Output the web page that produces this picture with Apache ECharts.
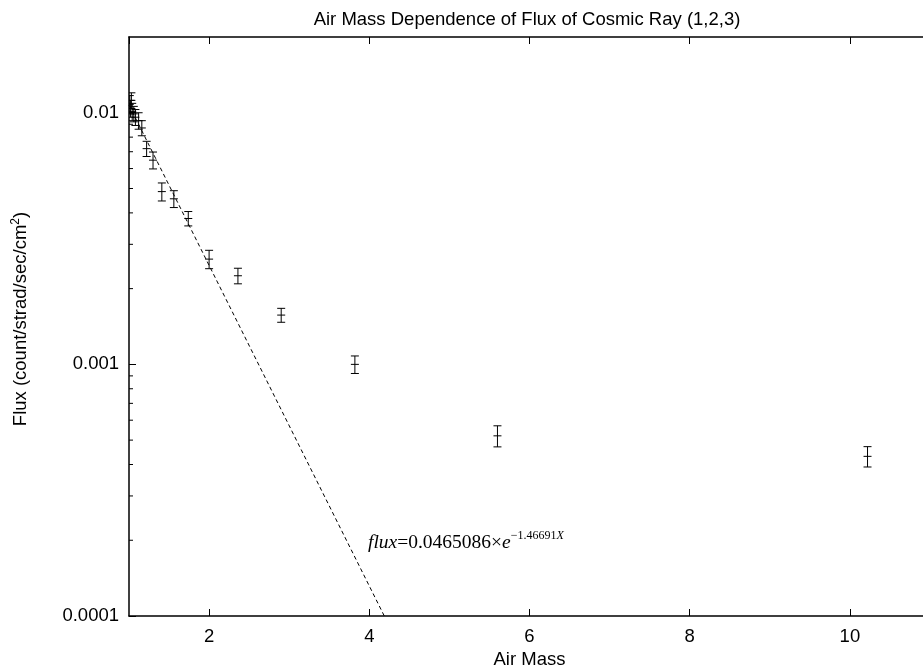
<!DOCTYPE html>
<html>
<head>
<meta charset="utf-8">
<script src="https://cdn.jsdelivr.net/npm/echarts@6/dist/echarts.min.js"></script>
<style>
  html, body { margin: 0; padding: 0; background: #fff; }
  #chart { width: 923px; height: 666px; }
</style>
</head>
<body>
<div id="chart"></div>
<script>
// Measured cosmic-ray flux versus air mass, with 1-sigma errors
const airMass = [1.01, 1.02, 1.03, 1.04, 1.06, 1.08, 1.12, 1.16, 1.22, 1.30, 1.41, 1.56, 1.74, 2.00, 2.36, 2.90, 3.82, 5.60, 10.22];
const flux    = [0.0108, 0.0104, 0.0112, 0.0101, 0.0099, 0.0096, 0.0093, 0.0087, 0.0072, 0.00648, 0.00486, 0.00455, 0.00380, 0.00262, 0.00225, 0.00157, 0.00100, 0.00052, 0.000431];
const fluxErr = [0.0009, 0.0008, 0.0008, 0.0008, 0.0007, 0.0007, 0.0007, 0.0006, 0.0005, 0.0005, 0.0004, 0.00035, 0.00025, 0.00022, 0.00016, 0.00010, 0.00008, 0.00005, 0.00004];

// Exponential fit: flux = fitA * exp(-fitB * X)
const fitA = 0.0465086;
const fitB = 1.46691;
const fitRange = [1, 11];

// Axis ranges and minor ticks of the logarithmic flux axis
const xRange = [1, 11];
const yRange = [0.0001, 0.02];
const yMinorTicks = [0.0002, 0.0003, 0.0004, 0.0005, 0.0006, 0.0007, 0.0008, 0.0009,
                     0.002, 0.003, 0.004, 0.005, 0.006, 0.007, 0.008, 0.009];

const FONT = '"Liberation Sans", Arial, sans-serif';
const SERIF = '"Liberation Serif", "Times New Roman", serif';
const FS = 18.5;

const chart = echarts.init(document.getElementById('chart'), null, { renderer: 'canvas' });

function fmtLog(v) {
  return String(Number(Number(v).toPrecision(6)));
}

const baseX = {
  type: 'value', min: xRange[0], max: xRange[1],
  axisLine: { show: true, lineStyle: { color: '#000', width: 1.5 } },
  axisTick: { show: true, inside: true, length: 7, lineStyle: { color: '#000', width: 1 } },
  splitLine: { show: false }
};
const baseY = {
  type: 'log', logBase: 10, min: yRange[0], max: yRange[1],
  axisLine: { show: true, lineStyle: { color: '#000', width: 1.5 } },
  axisTick: { show: true, inside: true, length: 7, lineStyle: { color: '#000', width: 1 } },
  splitLine: { show: false }
};

const fitData = fitRange.map(x => [x, fitA * Math.exp(-fitB * x)]);

chart.setOption({
  animation: false,
  backgroundColor: '#fff',
  // the frame runs past the right edge of the page (x = 11 lies just off-canvas)
  grid: { left: 129, width: 801, top: 37, height: 579, containLabel: false, outerBoundsMode: 'none' },
  xAxis: [
    Object.assign({}, baseX, {
      position: 'bottom',
      name: 'Air Mass', nameLocation: 'middle', nameGap: 32,
      nameTextStyle: { color: '#000', fontSize: FS, fontFamily: FONT },
      axisLabel: { show: true, color: '#000', fontSize: FS, fontFamily: FONT, margin: 11,
                   showMinLabel: false, showMaxLabel: false }
    }),
    Object.assign({}, baseX, { position: 'top', axisLabel: { show: false } })
  ],
  yAxis: [
    Object.assign({}, baseY, {
      position: 'left',
      axisLabel: { show: true, color: '#000', fontSize: FS, fontFamily: FONT, margin: 10,
                   showMaxLabel: false, formatter: fmtLog }
    }),
    Object.assign({}, baseY, { position: 'right', axisLabel: { show: false } })
  ],
  graphic: [
    {
      type: 'text', x: 527, y: 20,
      style: { text: 'Air Mass Dependence of Flux of Cosmic Ray (1,2,3)', fill: '#000',
               font: FS + 'px ' + FONT, align: 'center', verticalAlign: 'middle' }
    },
    {
      type: 'text', x: 20, y: 319, rotation: Math.PI / 2,
      style: {
        text: '{n|Flux (count/strad/sec/cm}{s|2}{n|)}',
        align: 'center', verticalAlign: 'middle',
        rich: {
          n: { fontSize: FS, fontFamily: FONT, fill: '#000', lineHeight: 21, verticalAlign: 'bottom' },
          s: { fontSize: 12, fontFamily: FONT, fill: '#000', lineHeight: 21, verticalAlign: 'top' }
        }
      }
    },
    {
      type: 'text', x: 368, y: 541,
      style: {
        text: '{it|flux}{rm|=' + fitA + '×}{it|e}{sup|−' + fitB + '}{supi|X}',
        align: 'left', verticalAlign: 'middle',
        rich: {
          it: { fontSize: 19.5, fontFamily: SERIF, fontStyle: 'italic', fill: '#000', lineHeight: 23, verticalAlign: 'bottom' },
          rm: { fontSize: 19.5, fontFamily: SERIF, fill: '#000', lineHeight: 23, verticalAlign: 'bottom' },
          sup: { fontSize: 12, fontFamily: SERIF, fill: '#000', lineHeight: 14, verticalAlign: 'top' },
          supi: { fontSize: 12, fontFamily: SERIF, fontStyle: 'italic', fill: '#000', lineHeight: 14, verticalAlign: 'top' }
        }
      }
    }
  ],
  series: [
    {
      // fitted exponential, dashed
      type: 'line', xAxisIndex: 0, yAxisIndex: 0,
      data: fitData, showSymbol: false, symbol: 'none', clip: true, silent: true,
      lineStyle: { color: '#000', width: 1, type: [4, 3] }
    },
    {
      // measured points with error bars
      type: 'custom', xAxisIndex: 0, yAxisIndex: 0, silent: true, clip: true,
      data: airMass.map((x, i) => [x, flux[i], fluxErr[i]]),
      encode: { x: 0, y: 1 },
      renderItem: function (params, api) {
        const x = api.value(0), y = api.value(1), e = api.value(2);
        const c = api.coord([x, y]);
        const lo = api.coord([x, y - e]);
        const hi = api.coord([x, y + e]);
        const cap = 4, mark = 4;
        const st = { stroke: '#000', lineWidth: 1 };
        return {
          type: 'group',
          children: [
            { type: 'line', shape: { x1: c[0], y1: lo[1], x2: c[0], y2: hi[1] }, style: st },
            { type: 'line', shape: { x1: c[0] - cap, y1: lo[1], x2: c[0] + cap, y2: lo[1] }, style: st },
            { type: 'line', shape: { x1: c[0] - cap, y1: hi[1], x2: c[0] + cap, y2: hi[1] }, style: st },
            { type: 'line', shape: { x1: c[0] - mark, y1: c[1], x2: c[0] + mark, y2: c[1] }, style: st }
          ]
        };
      }
    },
    {
      // minor ticks of the log axis on both frame sides
      type: 'custom', xAxisIndex: 0, yAxisIndex: 0, silent: true, clip: false,
      data: yMinorTicks.map(v => [xRange[0], v]),
      encode: { x: 0, y: 1 },
      renderItem: function (params, api) {
        const v = api.value(1);
        const l = api.coord([xRange[0], v]);
        const r = api.coord([xRange[1], v]);
        const st = { stroke: '#000', lineWidth: 1 };
        return {
          type: 'group',
          children: [
            { type: 'line', shape: { x1: l[0], y1: l[1], x2: l[0] + 4, y2: l[1] }, style: st },
            { type: 'line', shape: { x1: r[0], y1: r[1], x2: r[0] - 4, y2: r[1] }, style: st }
          ]
        };
      }
    }
  ]
});
</script>
</body>
</html>
